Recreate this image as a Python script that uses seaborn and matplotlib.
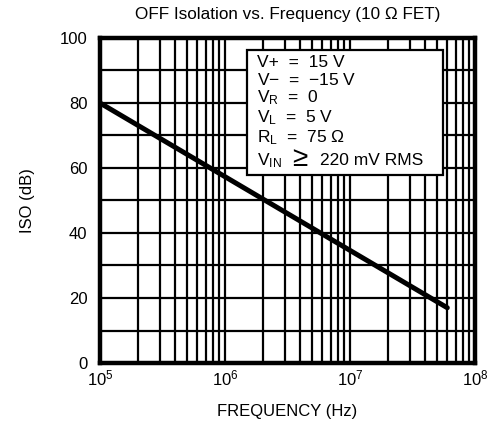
import numpy as np
import pandas as pd
import seaborn as sns
import matplotlib
matplotlib.use("Agg")
import matplotlib.pyplot as plt
from matplotlib.patches import Rectangle
from matplotlib.ticker import FixedLocator, LogLocator, NullFormatter

# OFF isolation of the switch versus frequency
freq_hz = [1e5, 6e7]
iso_db = [80, 17]

y_ticks = [0, 20, 40, 60, 80, 100]
conditions = [
    r"V+  =  15 V",
    r"V$-$  =  $-$15 V",
    r"V$_\mathregular{R}$  =  0",
    r"V$_\mathregular{L}$  =  5 V",
    r"R$_\mathregular{L}$  =  75 Ω",
    r"V$_\mathregular{IN}$",
]

sns.set_theme(style="white")
plt.rcParams["font.family"] = ["Liberation Sans", "DejaVu Sans"]
plt.rcParams["mathtext.fontset"] = "custom"
plt.rcParams["mathtext.rm"] = "Liberation Sans"
plt.rcParams["mathtext.it"] = "Liberation Sans"
plt.rcParams["mathtext.bf"] = "Liberation Sans:bold"
plt.rcParams["text.color"] = "black"
plt.rcParams["axes.labelcolor"] = "black"

fig = plt.figure(figsize=(4.96, 4.22), dpi=100)
ax = fig.add_axes([0.2016, 0.1398, 0.7561, 0.7702])

df = pd.DataFrame({"freq": freq_hz, "iso": iso_db})
sns.lineplot(data=df, x="freq", y="iso", ax=ax, color="black", linewidth=3.6, zorder=5)

ax.set_xscale("log")
ax.set_xlim(1e5, 1e8)
ax.set_ylim(0, 100)

ax.xaxis.set_major_locator(LogLocator(base=10, numticks=10))
ax.xaxis.set_minor_locator(LogLocator(base=10, subs=np.arange(2, 10), numticks=10))
ax.xaxis.set_minor_formatter(NullFormatter())
ax.yaxis.set_major_locator(FixedLocator(y_ticks))
ax.yaxis.set_minor_locator(FixedLocator(np.arange(10, 100, 20)))

ax.grid(True, which="both", axis="both", color="black", linewidth=1.6)
ax.set_axisbelow(True)
for side in ax.spines.values():
    side.set_color("black")
    side.set_linewidth(3.2)

ax.tick_params(axis="both", which="both", length=0, labelsize=12, colors="black")
ax.tick_params(axis="y", pad=9)
ax.tick_params(axis="x", pad=4)

ax.set_xlabel("FREQUENCY (Hz)", fontsize=12, labelpad=11)
ax.set_ylabel("ISO (dB)", fontsize=12, labelpad=18)
ax.set_title("OFF Isolation vs. Frequency (10 Ω FET)", fontsize=12.3, pad=14)

# test conditions box
ax.add_patch(Rectangle((0.392, 0.577), 0.523, 0.386, transform=ax.transAxes,
                       facecolor="white", edgecolor="black", linewidth=1.6, zorder=6))
row_y = [0.926, 0.870, 0.815, 0.756, 0.694, 0.623]
for text, y in zip(conditions, row_y):
    ax.text(0.419, y, text, transform=ax.transAxes, fontsize=12.5, va="center",
            ha="left", color="black", zorder=7)
ax.text(0.513, 0.628, "≥", transform=ax.transAxes, fontsize=20, va="center",
        ha="left", color="black", zorder=7)
ax.text(0.587, 0.623, "220 mV RMS", transform=ax.transAxes, fontsize=12.5,
        va="center", ha="left", color="black", zorder=7)

fig.savefig("out.png", dpi=100)
